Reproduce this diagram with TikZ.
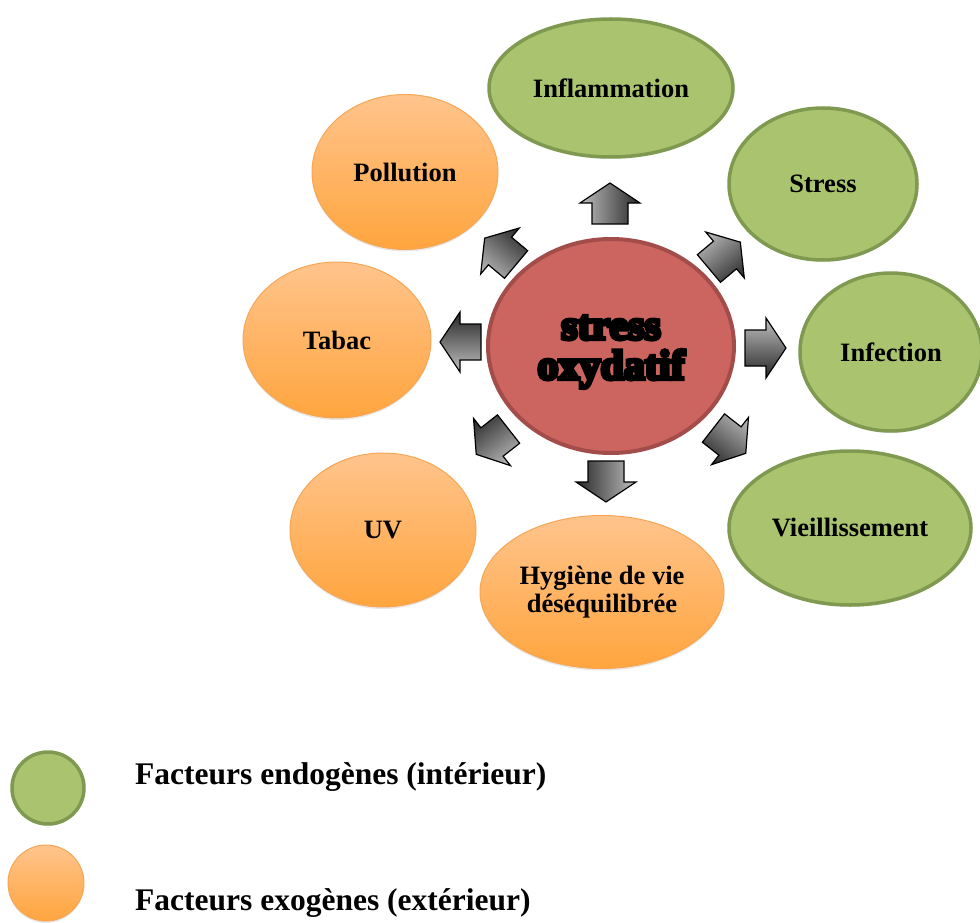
\documentclass[tikz,border=0pt]{standalone}
\usepackage{fontspec}
\setmainfont{Liberation Serif}
\newfontfamily\heavyfont[FakeBold=9]{Liberation Serif Bold}
\usetikzlibrary{shapes.geometric,shadows}
\definecolor{endofill}{HTML}{AAC36E}
\definecolor{endoline}{HTML}{7F9A50}
\definecolor{exotop}{HTML}{FFC48C}
\definecolor{exobot}{HTML}{FFA53E}
\definecolor{exoline}{HTML}{F6A655}
\definecolor{corefill}{HTML}{CC6560}
\definecolor{coreline}{HTML}{A34D4A}
\newcommand\blockarr[2]{%
  \shade[arrowshade, transform canvas={shift={(#1)},rotate=#2}]
    (20pt,0pt) -- (0pt,30pt) -- (0pt,18pt) -- (-21pt,18pt) -- (-21pt,-18pt)
    -- (0pt,-18pt) -- (0pt,-30pt) -- cycle;}
\begin{document}
\begin{tikzpicture}[x=1pt,y=-1pt,
  every node/.style={font=\fontsize{26.5}{28}\selectfont\bfseries, align=center, inner sep=0pt},
  endo/.style={ellipse, fill=endofill, draw=endoline, line width=3.5pt,
    drop shadow={opacity=0.18, shadow xshift=0pt, shadow yshift=-2pt}},
  exo/.style={ellipse, top color=exotop, bottom color=exobot, draw=exoline, line width=1pt,
    drop shadow={opacity=0.18, shadow xshift=0pt, shadow yshift=-2pt}},
  core/.style={ellipse, fill=corefill, draw=coreline, line width=4pt},
  coretext/.style={font=\heavyfont\fontsize{42}{40}\selectfont},
  arrowshade/.style={draw=black, line width=1.2pt, line join=miter,
    top color=black!25, bottom color=black!85},
  legend/.style={anchor=west, font=\fontsize{31.5}{34}\selectfont\bfseries}
]
\useasboundingbox (0,0) rectangle (980,923);

% centre
\node[core, minimum width=246pt, minimum height=214pt] (core) at (611,346) {};
\node[coretext, yshift=-6pt] (coretxt) at (core.center) {stress\\oxydatif};

% endogenous factors
\node[endo, minimum width=244pt, minimum height=138pt] (infl) at (611,88) {Inflammation};
\node[endo, minimum width=188pt, minimum height=152pt] (stress) at (823,184) {Stress};
\node[endo, minimum width=182pt, minimum height=158pt] (infec) at (891,352) {Infection};
\node[endo, minimum width=242pt, minimum height=154pt] (vieil) at (850,528) {Vieillissement};

% exogenous factors
\node[exo, minimum width=186pt, minimum height=155pt] (poll) at (405,172) {Pollution};
\node[exo, minimum width=188pt, minimum height=156pt] (tabac) at (337,340) {Tabac};
\node[exo, minimum width=186pt, minimum height=154pt] (uv) at (383,530) {UV};
\node[exo, minimum width=244pt, minimum height=153pt] (hyg) at (602,592) {Hygiène de vie\\déséquilibrée};

% block arrows
\blockarr{610,203}{90}
\blockarr{725,255}{40}
\blockarr{766,348}{0}
\blockarr{730,441}{-38}
\blockarr{606,482}{-90}
\blockarr{492,442}{-142}
\blockarr{460,342}{180}
\blockarr{500,251}{140}

% legend
\node[endo, circle, minimum size=72pt] (lgendo) at (48,788) {};
\node[exo, circle, minimum size=76pt] (lgexo) at (46,883) {};
\node[legend] (lgendotxt) at (135,777) {Facteurs endogènes (intérieur)};
\node[legend] (lgexotxt) at (135,903) {Facteurs exogènes (extérieur)};
\end{tikzpicture}
\end{document}
